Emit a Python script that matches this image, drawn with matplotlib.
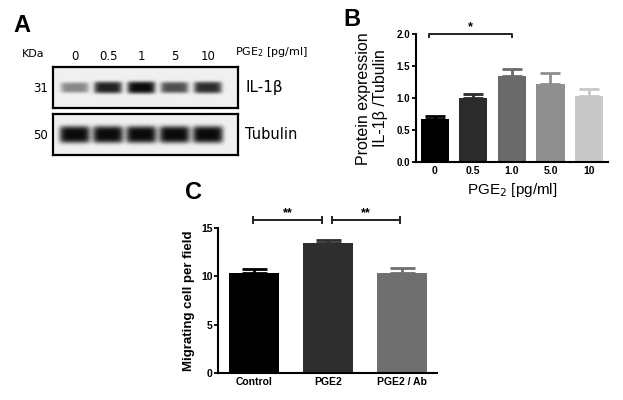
import numpy as np
import matplotlib.pyplot as plt

plt.rcParams['font.family'] = ['Liberation Sans', 'DejaVu Sans']

# panel A: western blot, relative band strength per lane
lanes = ['0', '0.5', '1', '5', '10']
il1b_band = [0.45, 0.9, 1.0, 0.7, 0.85]
tubulin_band = [1.0, 1.0, 1.0, 1.0, 1.0]

# panel B: IL-1b / tubulin
doses = ['0', '0.5', '1.0', '5.0', '10']
expr = [0.67, 1.01, 1.35, 1.22, 1.03]
expr_err = [0.05, 0.05, 0.11, 0.17, 0.12]
dose_colors = ['#000000', '#2b2b2b', '#6a6a6a', '#8f8f8f', '#c8c8c8']

# panel C: migration
groups = ['Control', 'PGE2', 'PGE2 / Ab']
migr = [10.35, 13.45, 10.35]
migr_err = [0.4, 0.33, 0.48]
group_colors = ['#000000', '#2e2e2e', '#6f6f6f']

W, H = 623, 400
fig = plt.figure(figsize=(W / 100, H / 100), dpi=100)


def box(left, top, right, bottom):
    # pixel box -> figure fraction rect
    return [left / W, 1 - bottom / H, (right - left) / W, (bottom - top) / H]


def blot(ax, strength, half_w, half_h):
    xs = np.linspace(-0.65, 4.9, 400)
    ys = np.linspace(-1, 1, 120)
    X, Y = np.meshgrid(xs, ys)
    dark = np.zeros_like(X)
    for i, s in enumerate(strength):
        hh = half_h * (0.75 + 0.25 * s)
        dark += s * np.exp(-((X - i) / half_w) ** 6) * np.exp(-(Y / hh) ** 4)
    img = 0.94 - 0.9 * np.clip(dark, 0, 1)
    ax.imshow(img, cmap='gray', vmin=0, vmax=1, extent=(-0.65, 4.9, -1, 1),
              aspect='auto', interpolation='bilinear')
    ax.set_xlim(-0.65, 4.9)
    ax.set_ylim(-1, 1)
    for sp in ax.spines.values():
        sp.set_linewidth(1.6)
    ax.tick_params(length=0)


# ---- A ----
axA1 = fig.add_axes(box(53, 67, 238, 108))
blot(axA1, il1b_band, 0.42, 0.3)
axA1.xaxis.tick_top()
axA1.set_xticks(range(len(lanes)))
axA1.set_xticklabels(lanes, family='DejaVu Sans', fontsize=8.5)
axA1.tick_params(axis='x', pad=3)
axA1.set_yticks([0])
axA1.set_yticklabels(['31'], family='DejaVu Sans', fontsize=8.5)
axA1.text(-0.045, 1.2, 'KDa', transform=axA1.transAxes, ha='right', va='bottom',
          family='DejaVu Sans', fontsize=8)
axA1.text(0.985, 1.2, 'PGE$_2$ [pg/ml]', transform=axA1.transAxes, ha='left', va='bottom',
          family='DejaVu Sans', fontsize=8)
axA1.text(1.04, 0.5, 'IL-1β', transform=axA1.transAxes, ha='left', va='center',
          family='DejaVu Sans', fontsize=11)

axA2 = fig.add_axes(box(53, 114, 238, 155))
blot(axA2, tubulin_band, 0.46, 0.42)
axA2.set_xticks([])
axA2.set_yticks([0])
axA2.set_yticklabels(['50'], family='DejaVu Sans', fontsize=8.5)
axA2.text(1.04, 0.5, 'Tubulin', transform=axA2.transAxes, ha='left', va='center',
          family='DejaVu Sans', fontsize=10.5)

fig.text(22 / W, 1 - 26 / H, 'A', ha='center', va='center', fontsize=17, fontweight='bold')
fig.text(352 / W, 1 - 20 / H, 'B', ha='center', va='center', fontsize=17, fontweight='bold')
fig.text(193 / W, 1 - 193 / H, 'C', ha='center', va='center', fontsize=17, fontweight='bold')


def style(ax):
    ax.spines['top'].set_visible(False)
    ax.spines['right'].set_visible(False)
    ax.spines['left'].set_linewidth(1.5)
    ax.spines['bottom'].set_linewidth(1.5)
    ax.tick_params(axis='y', length=3, width=1.3, pad=1)
    ax.tick_params(axis='x', length=0, pad=3)


# ---- B ----
axB = fig.add_axes(box(415.7, 34.3, 608, 162.3))
xb = np.arange(len(doses))
axB.bar(xb, expr, width=0.73, color=dose_colors)
for i in range(len(doses)):
    axB.errorbar(xb[i], expr[i], yerr=[[0], [expr_err[i]]], color=dose_colors[i],
                 capsize=7, elinewidth=2, capthick=2)
axB.set_xlim(-0.49, 4.49)
axB.set_ylim(0, 2.0)
axB.set_yticks([0, 0.5, 1.0, 1.5, 2.0])
axB.set_yticklabels(['0.0', '0.5', '1.0', '1.5', '2.0'], fontsize=7, fontweight='bold')
axB.set_xticks(xb)
axB.set_xticklabels(doses, fontsize=7.5, fontweight='bold')
style(axB)
axB.set_ylabel('Protein expression\nIL-1β /Tubulin', fontsize=11.5, labelpad=6, linespacing=1.15)
axB.set_xlabel('PGE$_2$ [pg/ml]', fontsize=11, labelpad=3)
axB.plot([-0.15, -0.15, 2.0, 2.0], [1.96, 2.0, 2.0, 1.96], color='#222222', lw=1.4,
         clip_on=False)
axB.text(0.92, 2.02, '*', ha='center', va='bottom', fontsize=9, fontweight='bold')

# ---- C ----
axC = fig.add_axes(box(218, 228.3, 437, 372.7))
xc = np.arange(len(groups))
axC.bar(xc, migr, width=0.68, color=group_colors)
for i in range(len(groups)):
    axC.errorbar(xc[i], migr[i], yerr=[[0], [migr_err[i]]], color=group_colors[i],
                 capsize=9, elinewidth=2, capthick=2)
axC.set_xlim(-0.49, 2.47)
axC.set_ylim(0, 15)
axC.set_yticks([0, 5, 10, 15])
axC.set_yticklabels(['0', '5', '10', '15'], fontsize=7.5, fontweight='bold')
axC.set_xticks(xc)
axC.set_xticklabels(groups, fontsize=7.5, fontweight='bold')
style(axC)
axC.set_ylabel('Migrating cell per field', fontsize=9.5, fontweight='bold', labelpad=4)
for a, b in [(-0.02, 0.92), (1.05, 1.97)]:
    axC.plot([a, b], [15.85, 15.85], color='#222222', lw=1.4, clip_on=False)
    axC.plot([a, a], [15.55, 16.15], color='#222222', lw=1.4, clip_on=False)
    axC.plot([b, b], [15.55, 16.15], color='#222222', lw=1.4, clip_on=False)
    axC.text((a + b) / 2, 15.95, '**', ha='center', va='bottom', fontsize=9,
             fontweight='bold')

fig.savefig('out.png', dpi=100)
